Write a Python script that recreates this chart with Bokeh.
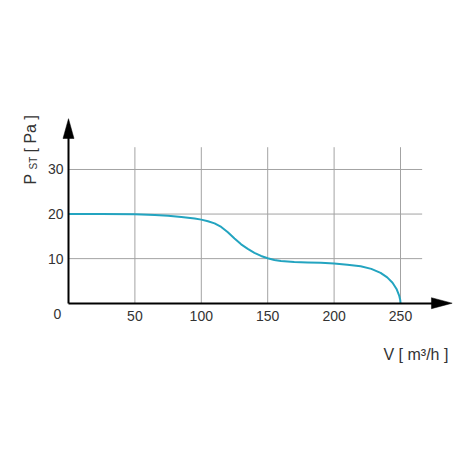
import math
from bokeh.plotting import figure
from bokeh.models import Range1d, FixedTicker, Label, LinearAxis
from bokeh.embed import file_html
from bokeh.resources import INLINE

# ---- data ----
flow = [0, 25, 50, 65, 75, 85, 95, 100, 105, 110, 115, 120, 125, 130, 135,
        140, 145, 150, 155, 160, 170, 180, 190, 200, 210, 220, 228, 235,
        240, 244, 247, 249, 249.8, 250]
pressure = [20.0, 20.0, 19.95, 19.8, 19.6, 19.35, 19.0, 18.75, 18.4, 17.9,
            17.1, 15.9, 14.5, 13.2, 12.2, 11.3, 10.6, 10.1, 9.7, 9.45, 9.25,
            9.15, 9.05, 8.9, 8.65, 8.3, 7.7, 6.8, 5.8, 4.6, 3.2, 1.7, 0.7, 0.0]
x_ticks = [50, 100, 150, 200, 250]
y_ticks = [10, 20, 30]
origin_label = "0"
x_title = "V [ m³/h ]"
y_title_main = "P"
y_title_sub = "ST"
y_title_unit = "[ Pa ]"

# ---- layout ----
W = H = 454
PPX = 1.328   # pixels per flow unit
PPY = 4.457   # pixels per pressure unit
X0 = -68 / PPX
X1 = X0 + W / PPX
Y1 = 302.7 / PPY
Y0 = Y1 - H / PPY
GRID_TOP = 35.0
GRID_RIGHT = 266.3
FONT = "Liberation Sans"
TXT = "#333333"


def dx(px):
    return X0 + px / PPX


def dy(py):
    return Y1 - py / PPY


p = figure(width=W, height=H, x_range=Range1d(X0, X1), y_range=Range1d(Y0, Y1),
           output_backend="svg", toolbar_location=None, min_border=0,
           x_axis_location=None, y_axis_location=None)
p.outline_line_color = None
p.grid.visible = False
p.background_fill_color = "white"
p.border_fill_color = "white"

# grid lines limited to the chart area
p.segment(x0=x_ticks, y0=[0] * len(x_ticks), x1=x_ticks, y1=[GRID_TOP] * len(x_ticks),
          line_color="#a3a3a3", line_width=1)
p.segment(x0=[0] * len(y_ticks), y0=y_ticks, x1=[GRID_RIGHT] * len(y_ticks), y1=y_ticks,
          line_color="#a3a3a3", line_width=1)

# curve
p.line(flow, pressure, line_color="#23a4c0", line_width=2)

# axes
common = dict(axis_line_width=2, axis_line_color="black",
              major_tick_in=0, major_tick_out=0, minor_tick_in=0, minor_tick_out=0,
              major_label_text_font=FONT, major_label_text_font_size="14px",
              major_label_text_color=TXT)
xax = LinearAxis(fixed_location=0, ticker=FixedTicker(ticks=x_ticks),
                 bounds=(0, 274), major_label_standoff=8, **common)
yax = LinearAxis(fixed_location=0, ticker=FixedTicker(ticks=y_ticks),
                 bounds=(0, 37.5), major_label_standoff=5, **common)
p.add_layout(xax, "below")
p.add_layout(yax, "left")

# arrow heads
hw_x = 5.5 / PPX
hw_y = 5.5 / PPY
y_tip, y_base = 41.4, 36.95
x_tip, x_base = 288.9, 273.3
p.patch([0, -hw_x, hw_x], [y_tip, y_base, y_base], color="black", line_width=0.5)
p.patch([x_tip, x_base, x_base], [0, hw_y, -hw_y], color="black", line_width=0.5)

# labels
p.add_layout(Label(x=0, y=0, x_offset=-11, y_offset=-11, text=origin_label,
                   text_align="center", text_baseline="middle",
                   text_font=FONT, text_font_size="14px", text_color=TXT))
p.add_layout(Label(x=dx(383), y=dy(354), text=x_title, text_align="left",
                   text_baseline="alphabetic", text_font=FONT,
                   text_font_size="16px", text_color=TXT))
p.add_layout(Label(x=dx(30), y=dy(184), text=y_title_main, angle=math.pi / 2,
                   text_align="left", text_baseline="alphabetic", text_font=FONT,
                   text_font_size="16px", text_color=TXT))
p.add_layout(Label(x=dx(32.5), y=dy(169), text=y_title_sub, angle=math.pi / 2,
                   text_align="left", text_baseline="alphabetic", text_font=FONT,
                   text_font_size="10px", text_color=TXT))
p.add_layout(Label(x=dx(30), y=dy(152), text=y_title_unit, angle=math.pi / 2,
                   text_align="left", text_baseline="alphabetic", text_font=FONT,
                   text_font_size="16px", text_color=TXT))

open("out.html", "w").write(file_html(p, INLINE))
